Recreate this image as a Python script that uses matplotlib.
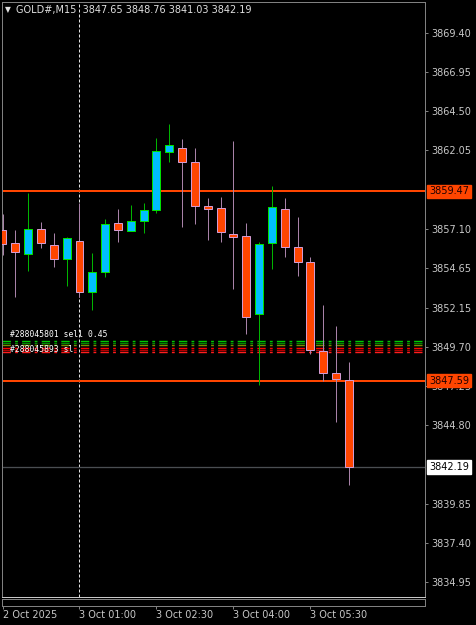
import numpy as np
import matplotlib
matplotlib.use('Agg')
import matplotlib.pyplot as plt
import matplotlib.transforms as mtransforms

# M15 bars, 2 Oct 23:30 .. 3 Oct 06:15
opens  = [3857.04, 3856.21, 3855.54, 3857.08, 3856.10, 3855.20, 3856.35, 3853.17, 3854.43, 3857.51,
          3856.98, 3857.59, 3858.30, 3861.95, 3862.17, 3861.29, 3858.55, 3858.40, 3856.79, 3856.66,
          3851.75, 3856.21, 3858.36, 3855.99, 3855.05, 3849.45, 3848.05, 3847.65]
highs  = [3858.04, 3857.04, 3859.38, 3857.56, 3856.83, 3856.58, 3858.75, 3855.62, 3857.71, 3858.34,
          3858.61, 3858.74, 3862.79, 3863.69, 3862.73, 3862.17, 3859.07, 3859.09, 3862.62, 3857.46,
          3856.31, 3859.82, 3859.03, 3857.84, 3855.33, 3852.34, 3851.04, 3848.76]
lows   = [3855.47, 3852.86, 3854.49, 3855.93, 3854.74, 3853.53, 3852.86, 3852.02, 3854.11, 3856.31,
          3856.95, 3856.83, 3858.13, 3861.29, 3857.21, 3857.42, 3856.41, 3856.31, 3853.34, 3850.52,
          3847.32, 3854.59, 3855.37, 3854.17, 3849.26, 3847.59, 3845.01, 3841.03]
closes = [3856.16, 3855.64, 3857.08, 3856.21, 3855.20, 3856.52, 3853.17, 3854.39, 3857.40, 3857.04,
          3857.61, 3858.31, 3861.98, 3862.37, 3861.29, 3858.55, 3858.34, 3856.90, 3856.58, 3851.60,
          3856.16, 3858.47, 3855.99, 3855.01, 3849.51, 3848.05, 3847.67, 3842.19]

# levels
red_levels = [3859.47, 3847.59]
bid = 3842.19
order_green = [3850.08, 3849.96, 3849.84]
order_red = [3849.64, 3849.51, 3849.39]
order_green_colors = ['#00C800', '#008C00', '#7A8C00']
order_red_colors = ['#FF0000', '#B40000', '#FF1E1E']
order_labels = ['#288045801 sell 0.45', '#288045893 sl']
separator_bar = 6

ytick_vals = [3869.40, 3866.95, 3864.50, 3862.05, 3857.10, 3854.65, 3852.15,
              3849.70, 3847.25, 3844.80, 3839.85, 3837.40, 3834.95]
xtick_bars = [0, 6, 12, 18, 24]
xtick_labels = ['2 Oct 2025', '3 Oct 01:00', '3 Oct 02:30', '3 Oct 04:00', '3 Oct 05:30']

W, H = 476, 625
px = 0.72  # one pixel in points at 100 dpi
txt = '#C8C8C8'
grid = '#808080'

fig = plt.figure(figsize=(W / 100, H / 100), dpi=100, facecolor='black')
ax = fig.add_axes([2 / W, 28 / H, 423 / W, 595 / H], facecolor='black')
ax2 = fig.add_axes([2 / W, 19 / H, 423 / W, 7 / H], facecolor='black', sharex=ax)

o = np.array(opens); h = np.array(highs); l = np.array(lows); c = np.array(closes)
x = np.arange(len(o))
bull = c >= o

# candles
ax.vlines(x[bull], l[bull], h[bull], color='#00B400', lw=px, zorder=3)
ax.vlines(x[~bull], l[~bull], h[~bull], color='#A882A8', lw=px, zorder=3)
bottom = np.minimum(o, c)
height = np.maximum(np.abs(c - o), 0.05)
ax.bar(x[bull], height[bull], bottom=bottom[bull], width=0.62, color='#00BFFF',
       edgecolor='#00E000', linewidth=px, zorder=4)
ax.bar(x[~bull], height[~bull], bottom=bottom[~bull], width=0.62, color='#FF4500',
       edgecolor='#D29BD2', linewidth=px, zorder=4)

# horizontal levels
for lv in red_levels:
    ax.axhline(lv, color='#FF4500', lw=2 * px, zorder=2)
ax.axhline(bid, color='#4A4E52', lw=1.3 * px, zorder=2)
for lv, col in zip(order_green, order_green_colors):
    ax.axhline(lv, color=col, lw=1.4 * px, ls=(0, (6, 3, 2, 3)), zorder=1)
for lv, col in zip(order_red, order_red_colors):
    ax.axhline(lv, color=col, lw=1.4 * px, ls=(0, (6, 3, 2, 3)), zorder=1)

# period separator
ax.axvline(separator_bar, color='#E0E0E0', lw=px, ls=(0, (3, 2)), zorder=1)

# order labels
ax.text(0.6, order_green[0] + 0.1, order_labels[0], color='white', fontsize=5.8,
        va='bottom', ha='left', zorder=6, family='DejaVu Sans Mono')
ax.text(0.6, order_green[2], order_labels[1], color='white', fontsize=5.8,
        va='top', ha='left', zorder=6, family='DejaVu Sans Mono')

ax.set_xlim(-0.04, 32.93)
ax.set_ylim(3834.02, 3871.345)

# price axis
ax.yaxis.tick_right()
ax.set_yticks(ytick_vals)
ax.set_yticklabels(['%.2f' % v for v in ytick_vals])
ax.tick_params(axis='y', colors=grid, labelcolor=txt, labelsize=7, length=3 * px,
               width=px, pad=2.2, direction='out')
ax.tick_params(axis='x', bottom=False, labelbottom=False)
for sp in ax.spines.values():
    sp.set_color(grid)
    sp.set_linewidth(px)
ax.spines['bottom'].set_color('#C8C8C8')

# price tags
tr = mtransforms.blended_transform_factory(ax.transAxes, ax.transData)
for lv in red_levels:
    ax.text(1 + 4 / 423, lv, '%.2f' % lv, transform=tr, fontsize=7, color='#200000',
            va='center', ha='left', clip_on=False, zorder=10,
            bbox=dict(boxstyle='square,pad=0.18', fc='#FF4500', ec='#FF4500'))
ax.text(1 + 4 / 423, bid, '%.2f' % bid, transform=tr, fontsize=7, color='black',
        va='center', ha='left', clip_on=False, zorder=10,
        bbox=dict(boxstyle='square,pad=0.18', fc='white', ec='white'))

# time strip
ax2.set_yticks([])
ax2.set_xticks(xtick_bars)
ax2.set_xticklabels(xtick_labels)
ax2.tick_params(axis='x', colors=grid, labelcolor=txt, labelsize=7, length=3 * px,
                width=px, pad=1, direction='out')
for lab in ax2.get_xticklabels():
    lab.set_ha('left')
for sp in ax2.spines.values():
    sp.set_color(grid)
    sp.set_linewidth(px)

# header
fig.text(5 / W, 1 - 10 / H, '\u25bc', color='#E0E0E0', fontsize=5.5, va='center', ha='left')
fig.text(16 / W, 1 - 10 / H, 'GOLD#,M15  %.2f %.2f %.2f %.2f' % (opens[-1], highs[-1], lows[-1], closes[-1]),
         color='#E0E0E0', fontsize=7, va='center', ha='left')

fig.savefig('out.png', dpi=100, facecolor='black')
